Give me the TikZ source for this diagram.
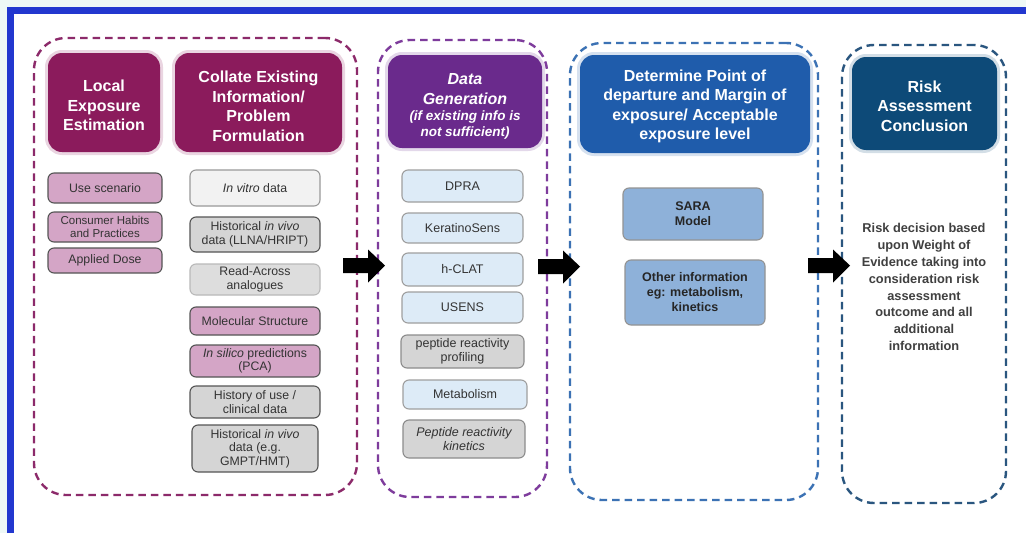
\documentclass[tikz,border=0pt]{standalone}
\usepackage{fontspec}
\setmainfont{Liberation Sans}
\usetikzlibrary{calc}
\definecolor{pagebg}{HTML}{EEF8F6}
\definecolor{framebl}{HTML}{2237CF}
\definecolor{gmag}{HTML}{8C2A6A}
\definecolor{gpur}{HTML}{7E3C9C}
\definecolor{gblue}{HTML}{3C72B4}
\definecolor{gdark}{HTML}{2A567F}
\definecolor{hmag}{HTML}{8B1B5C}
\definecolor{hpur}{HTML}{6A2A8C}
\definecolor{hblue}{HTML}{1F5CAB}
\definecolor{hdark}{HTML}{0D4A78}
\definecolor{pinkfill}{HTML}{D4A5C6}
\definecolor{lgfill}{HTML}{F2F2F2}
\definecolor{gfill}{HTML}{D5D5D5}
\definecolor{rfill}{HTML}{DDDDDD}
\definecolor{lbfill}{HTML}{DDEBF7}
\definecolor{sarafill}{HTML}{8EB1D9}
\definecolor{subline}{HTML}{555555}
\definecolor{subtext}{HTML}{333333}
\definecolor{risktext}{HTML}{404040}
\begin{document}
\begin{tikzpicture}[x=1pt,y=-1pt,
  sz/.style 2 args={minimum width=#1, minimum height=#2},
  grp/.style={draw=#1, dash pattern=on 7.5pt off 5pt, line width=2.4pt, rounded corners=32pt, inner sep=0pt},
  hdr/.style={fill=#1, rounded corners=14pt, inner sep=0pt},
  hdrtext/.style={text=white, font=\bfseries\fontsize{16}{19.5}\selectfont, align=center, inner sep=0pt},
  halo/.style={preaction={draw=#1, line width=6pt, opacity=0.45}},
  subbox/.style={draw=subline, line width=1.1pt, rounded corners=6pt, font=\fontsize{12.3}{13.5}\selectfont, text=subtext, align=center, inner sep=0pt},
  pinkbox/.style={subbox, fill=pinkfill},
  lgbox/.style={subbox, fill=lgfill, draw=gray!80},
  gbox/.style={subbox, fill=gfill},
  rbox/.style={subbox, fill=rfill, draw=gray!55},
  lbbox/.style={subbox, fill=lbfill, draw=gray!75, font=\fontsize{12.5}{14}\selectfont},
  dgbox/.style={subbox, fill=gfill, draw=gray!90, font=\fontsize{12.5}{14}\selectfont},
  sarabox/.style={subbox, fill=sarafill, draw=gray!85, font=\bfseries\fontsize{12.5}{15}\selectfont, text=black!85}
]
\useasboundingbox (0,0) rectangle (1026,533);
\fill[pagebg] (0,0) rectangle (1026,533);
\fill[white] (14,14) rectangle (1026,533);
\fill[framebl] (7,7) rectangle (14,533);
\fill[framebl] (7,7) rectangle (1026,14);

% groups
\node[grp=gmag, sz={323pt}{457pt}] (g1) at (195.5,266.5) {};
\node[grp=gpur, sz={169pt}{457pt}] (g2) at (462.5,268.5) {};
\node[grp=gblue, sz={248pt}{457pt}] (g3) at (694,271.5) {};
\node[grp=gdark, sz={164pt}{458pt}] (g4) at (924,274) {};

% headers
\node[hdr=hmag, halo=hmag!40, sz={112pt}{99pt}] (h1) at (104,102.5) {};
\node[hdrtext] (h1t) at ($(h1.center)+(0,3)$) {Local\\Exposure\\Estimation};
\node[hdr=hmag, halo=hmag!40, sz={167pt}{99pt}] (h2) at (258.5,102.5) {};
\node[hdrtext] (h2t) at ($(h2.center)+(0,4)$) {Collate Existing\\Information/\\Problem\\Formulation};
\node[hdr=hpur, halo=hpur!40, sz={154pt}{93pt}] (h3) at (465,101.5) {};
\node[hdrtext, font=\bfseries\itshape\fontsize{13.5}{15.5}\selectfont] (h3t) at ($(h3.center)+(0,5)$)
  {{\fontsize{16}{19}\selectfont Data}\\[4pt]{\fontsize{16}{19}\selectfont Generation}\\[1pt](if existing info is\\not sufficient)};
\node[hdr=hblue, halo=hblue!40, sz={230pt}{98pt}] (h4) at (695,104) {};
\node[hdrtext] (h4t) at ($(h4.center)+(0,2.5)$) {Determine Point of\\departure and Margin of\\exposure/ Acceptable\\exposure level};
\node[hdr=hdark, halo=hdark!40, sz={145pt}{93pt}] (h5) at (924.5,103.5) {};
\node[hdrtext] (h5t) at ($(h5.center)+(0,2.5)$) {Risk\\Assessment\\Conclusion};

% left column
\node[pinkbox, sz={114pt}{30pt}] (use) at (105,188) {Use scenario};
\node[pinkbox, sz={114pt}{30pt}, font=\fontsize{11.5}{12.5}\selectfont] (cons) at (105,227) {Consumer Habits\\and Practices};
\node[pinkbox, sz={114pt}{25pt}] (dose) at (105,260.5) {Applied Dose};

% collate column
\node[lgbox, sz={130pt}{36pt}] (vitro) at (255,188) {\textit{In vitro} data};
\node[gbox, sz={130pt}{35pt}] (hist1) at (255,234.5) {Historical \textit{in vivo}\\data (LLNA/HRIPT)};
\node[rbox, sz={130pt}{31pt}] (read) at (255,279.5) {Read-Across\\analogues};
\node[pinkbox, sz={130pt}{28pt}] (mol) at (255,321) {Molecular Structure};
\node[pinkbox, sz={130pt}{32pt}] (silico) at (255,361) {\textit{In silico} predictions\\(PCA)};
\node[gbox, sz={130pt}{32pt}] (histuse) at (255,402) {History of use /\\clinical data};
\node[gbox, sz={126pt}{47pt}] (hist2) at (255,448.5) {Historical \textit{in vivo}\\data (e.g.\\GMPT/HMT)};

% data generation column
\node[lbbox, sz={121pt}{32pt}] (dpra) at (462.5,186) {DPRA};
\node[lbbox, sz={121pt}{30pt}] (kera) at (462.5,228) {KeratinoSens};
\node[lbbox, sz={121pt}{33pt}] (hclat) at (462.5,269.5) {h-CLAT};
\node[lbbox, sz={121pt}{31pt}] (usens) at (462.5,307.5) {USENS};
\node[dgbox, sz={123pt}{33pt}] (pepp) at (462.5,351.5) {peptide reactivity\\profiling};
\node[lbbox, sz={124pt}{29pt}] (metab) at (465,394.5) {Metabolism};
\node[dgbox, sz={122pt}{38pt}, font=\itshape\fontsize{12.5}{14}\selectfont] (pepk) at (464,439) {Peptide reactivity\\kinetics};

% POD column
\node[sarabox, sz={140pt}{52pt}] (sara) at (693,214) {SARA\\Model};
\node[sarabox, sz={140pt}{65pt}] (other) at (695,292.5) {Other information\\eg: metabolism,\\kinetics};

% risk column
\node[font=\bfseries\fontsize{12.8}{16.9}\selectfont, text=risktext, align=center, inner sep=0pt] (risk) at (924,287)
  {Risk decision based\\upon Weight of\\Evidence taking into\\consideration risk\\assessment\\outcome and all\\additional\\information};

% block arrows between groups
\coordinate (a1) at (343,265.5);
\coordinate (a2) at (538,266.5);
\coordinate (a3) at (808,265.5);
\foreach \a in {a1,a2,a3}{
  \fill[black, shift={(\a)}] (0,-7.5) -- (25,-7.5) -- (25,-16) -- (42,0) -- (25,17) -- (25,7.5) -- (0,7.5) -- cycle;
}
\end{tikzpicture}
\end{document}
